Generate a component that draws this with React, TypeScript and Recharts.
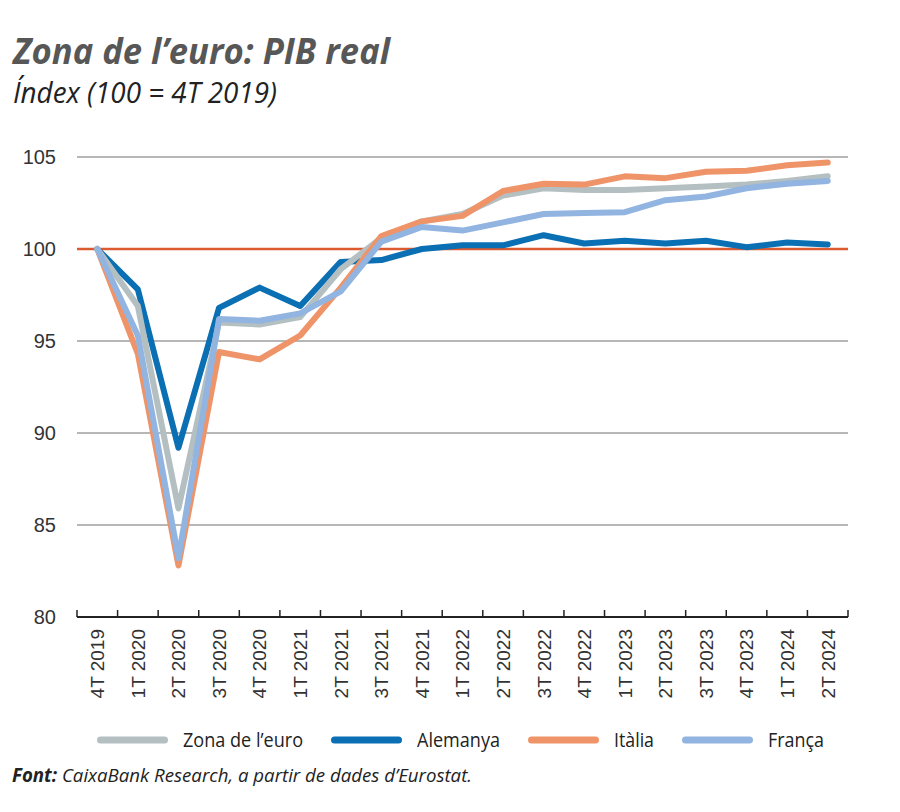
import React from "react";
import {CartesianGrid, Line, LineChart, ReferenceLine, XAxis, YAxis} from "recharts";

const quarters = [
    "4T 2019", "1T 2020", "2T 2020", "3T 2020", "4T 2020", "1T 2021", "2T 2021", "3T 2021", "4T 2021",
    "1T 2022", "2T 2022", "3T 2022", "4T 2022", "1T 2023", "2T 2023", "3T 2023", "4T 2023", "1T 2024", "2T 2024",
];
const zonaEuro = [100, 96.9, 85.9, 96.0, 95.9, 96.3, 98.9, 100.6, 101.5, 101.9, 102.9, 103.3, 103.2, 103.2, 103.3, 103.4, 103.5, 103.7, 103.95];
const alemanya = [100, 97.8, 89.2, 96.8, 97.9, 96.9, 99.3, 99.4, 100.0, 100.2, 100.2, 100.75, 100.3, 100.45, 100.3, 100.45, 100.1, 100.35, 100.25];
const italia = [100, 94.3, 82.8, 94.4, 94.0, 95.3, 97.9, 100.7, 101.5, 101.8, 103.15, 103.55, 103.5, 103.95, 103.85, 104.2, 104.25, 104.55, 104.7];
const franca = [100, 95.3, 83.2, 96.2, 96.1, 96.5, 97.7, 100.4, 101.2, 101.0, 101.45, 101.9, 101.95, 102.0, 102.65, 102.85, 103.3, 103.55, 103.7];
const yTicks = [80, 85, 90, 95, 100, 105];

const series = [
    {key: "alemanya", name: "Alemanya", color: "#0b6fb4", values: alemanya},
    {key: "zona", name: "Zona de l\u2019euro", color: "#b4bfc1", values: zonaEuro},
    {key: "italia", name: "Itàlia", color: "#ef9469", values: italia},
    {key: "franca", name: "França", color: "#91b4e0", values: franca},
];
// legend order and the width each label takes in the original
const legendOrder = ["zona", "alemanya", "italia", "franca"];
const legendTextW = [120, 83, 40, 56];

const data = quarters.map((q, i) => {
    const row: Record<string, string | number> = {q};
    series.forEach(s => row[s.key] = s.values[i]);
    return row;
});

const W = 900, H = 812;
const M = {top: 157, right: 52, bottom: 105, left: 0};
const Y_W = 77;
const X_H = 90;
const plotBottom = H - M.bottom - X_H;
const band = (W - M.right - Y_W) / quarters.length;

const textFont = "'Open Sans', sans-serif";
const axisFont = "'Liberation Sans', Arial, sans-serif";

const XTick = (props: any) => {
    const {x, payload, index} = props;
    return <g>
        <line x1={x - band / 2} x2={x - band / 2} y1={plotBottom} y2={plotBottom - 7} stroke="#222" strokeWidth={1.5}/>
        {index === quarters.length - 1 &&
            <line x1={x + band / 2} x2={x + band / 2} y1={plotBottom} y2={plotBottom - 7} stroke="#222" strokeWidth={1.5}/>}
        <text transform={`translate(${x},${plotBottom + 12}) rotate(-90)`} textAnchor="end" dy="0.36em"
              fontSize={19} fill="#333" fontFamily={axisFont}>{payload.value}</text>
    </g>;
};

const Legend = () => {
    let x = 97;
    const items = legendOrder.map((k, i) => {
        const s = series.find(d => d.key === k)!;
        const x0 = x;
        x += 71 + 15 + legendTextW[i] + 28;
        return <g key={k}>
            <line x1={x0 + 3.5} x2={x0 + 71 - 3.5} y1={740} y2={740} stroke={s.color} strokeWidth={7}
                  strokeLinecap="round"/>
            <text x={x0 + 86} y={747} fontSize={20} fill="#222" textLength={legendTextW[i]}
                  lengthAdjust="spacingAndGlyphs">{s.name}</text>
        </g>;
    });
    return <g fontFamily={textFont}>{items}</g>;
};

export default function App() {
    return <div style={{position: "absolute", left: 0, top: 0, width: W, height: H, background: "#fff"}}>
        <LineChart width={W} height={H} data={data} margin={M}>
            <CartesianGrid vertical={false} stroke="#6f6f6f" strokeWidth={1} horizontalValues={[85, 90, 95, 105]}/>
            <XAxis dataKey="q" scale="band" interval={0} height={X_H} tickLine={false} tick={<XTick/>}
                   axisLine={{stroke: "#222", strokeWidth: 2}}/>
            <YAxis domain={[80, 105]} ticks={yTicks} width={Y_W} axisLine={false} tickLine={false} tickSize={0}
                   tickMargin={21} tick={{fontSize: 20, fill: "#333", fontFamily: axisFont}}/>
            <ReferenceLine y={100} stroke="#dc5a30" strokeWidth={2.5}/>
            {series.map(s => <Line key={s.key} dataKey={s.key} name={s.name} type="linear" stroke={s.color}
                                   strokeWidth={6} dot={false} strokeLinecap="round" strokeLinejoin="round"
                                   isAnimationActive={false}/>)}
        </LineChart>
        <svg width={W} height={H} style={{position: "absolute", left: 0, top: 0, pointerEvents: "none"}}>
            <text x={13} y={64} fontFamily={textFont} fontWeight={700} fontStyle="italic" fontSize={36}
                  fill="#575757" textLength={377} lengthAdjust="spacingAndGlyphs">Zona de l’euro: PIB real</text>
            <text x={13} y={103} fontFamily={textFont} fontStyle="italic" fontSize={29} fill="#222"
                  textLength={264} lengthAdjust="spacingAndGlyphs">Índex (100 = 4T 2019)</text>
            <Legend/>
            <text x={12} y={782} fontFamily={textFont} fontStyle="italic" fontSize={19} fill="#222"
                  textLength={460} lengthAdjust="spacingAndGlyphs">
                <tspan fontWeight={700}>Font:</tspan> CaixaBank Research, a partir de dades d’Eurostat.
            </text>
        </svg>
    </div>;
}
